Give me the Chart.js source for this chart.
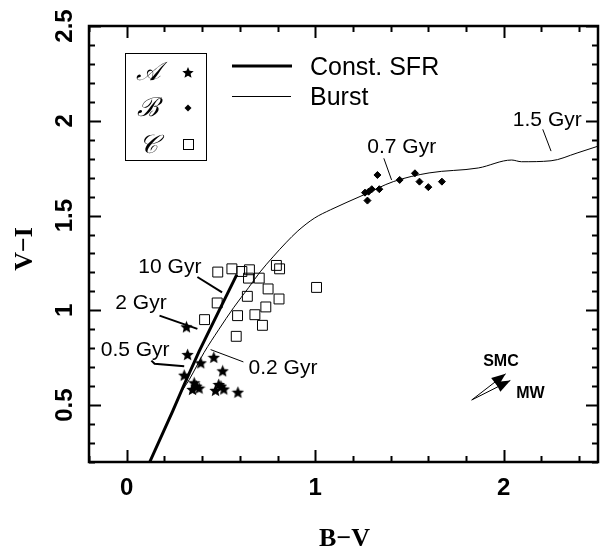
<!DOCTYPE html>
<html>
<head>
<meta charset="utf-8">
<script src="https://cdn.jsdelivr.net/npm/chart.js@4.4.0/dist/chart.umd.min.js"></script>
<style>
body { margin: 0; background: #fff; overflow: hidden; }
#wrap { width: 606px; height: 550px; }
</style>
</head>
<body>
<div id="wrap"><canvas id="myChart" width="606" height="550"></canvas></div>
<script>
// cluster sample A (stars)
var starX = [0.317, 0.323, 0.393, 0.462, 0.509, 0.305, 0.358, 0.384, 0.349, 0.370, 0.488, 0.471, 0.515, 0.500, 0.590];
var starY = [0.913, 0.767, 0.723, 0.752, 0.681, 0.658, 0.618, 0.590, 0.583, 0.600, 0.609, 0.578, 0.585, 0.600, 0.568];
// sample B (diamonds)
var diamondX = [1.330, 1.283, 1.300, 1.277, 1.340, 1.264, 1.448, 1.529, 1.553, 1.600, 1.672];
var diamondY = [1.714, 1.626, 1.639, 1.579, 1.639, 1.621, 1.688, 1.723, 1.679, 1.650, 1.679];
// sample C (open squares)
var squareX = [0.483, 0.558, 0.611, 0.651, 0.646, 0.703, 0.794, 0.811, 1.007, 0.750, 0.640, 0.808, 0.480, 0.738, 0.588, 0.680, 0.720, 0.413, 0.581];
var squareY = [1.202, 1.219, 1.205, 1.214, 1.170, 1.170, 1.237, 1.219, 1.121, 1.113, 1.074, 1.060, 1.039, 1.018, 0.972, 0.977, 0.921, 0.951, 0.863];

// model tracks
var constX = [0.122, 0.244, 0.305, 0.384, 0.488, 0.584];
var constY = [0.200, 0.468, 0.609, 0.784, 0.995, 1.188];
var burstX = [0.290, 0.332, 0.410, 0.488, 0.567, 0.646, 0.708, 0.776, 0.844, 0.908, 0.995, 1.080, 1.257, 1.414, 1.604, 1.865, 2.042, 2.094, 2.251, 2.389, 2.500];
var burstY = [0.570, 0.635, 0.777, 0.898, 1.014, 1.119, 1.203, 1.282, 1.356, 1.419, 1.486, 1.530, 1.609, 1.679, 1.725, 1.751, 1.793, 1.784, 1.789, 1.830, 1.866];

// age labels and their pointers
var ageText = ["10 Gyr", "2 Gyr", "0.5 Gyr", "0.2 Gyr", "0.7 Gyr", "1.5 Gyr"];
var ageX = [0.229, 0.076, 0.045, 0.829, 1.459, 2.231];
var ageY = [1.197, 1.006, 0.758, 0.662, 1.832, 1.972];
var pointerX = [[0.375, 0.506], [0.174, 0.375], [0.131, 0.148, 0.305], [0.445, 0.619], [1.364, 1.405], [2.207, 2.251]];
var pointerY = [[1.176, 1.095], [0.972, 0.902], [0.735, 0.718, 0.705], [0.793, 0.728], [1.802, 1.688], [1.955, 1.840]];
var pointerWidth = [2, 2, 2, 1, 1, 1];

// reddening vectors
var arrowText = ["SMC", "MW"];
var arrowX = [[1.830, 2.010], [1.830, 2.035]];
var arrowY = [[0.527, 0.665], [0.527, 0.630]];
var arrowTextX = [1.985, 2.142];
var arrowTextY = [0.705, 0.535];

// axes
var xTicks = [0, 1, 2];
var xTickLabels = ["0", "1", "2"];
var yTicks = [0.5, 1, 1.5, 2, 2.5];
var yTickLabels = ["0.5", "1", "1.5", "2", "2.5"];

function pts(xs, ys) {
  return xs.map(function (x, i) { return {x: x, y: ys[i]}; });
}

function makeStar(size) {
  var c = document.createElement("canvas");
  c.width = size; c.height = size;
  var g = c.getContext("2d");
  var r = size / 2, ri = r * 0.45;
  g.beginPath();
  for (var i = 0; i < 10; i++) {
    var a = -Math.PI / 2 + i * Math.PI / 5;
    var rr = i % 2 ? ri : r;
    g.lineTo(r + rr * Math.cos(a), r + 0.5 + rr * Math.sin(a));
  }
  g.closePath();
  g.fillStyle = "#000";
  g.fill();
  return c;
}
var starImg = makeStar(13);

var datasets = [
  {type: "line", data: pts(constX, constY), borderColor: "#000", borderWidth: 3, pointRadius: 0, fill: false},
  {type: "line", data: pts(burstX, burstY), borderColor: "#000", borderWidth: 1, pointRadius: 0, fill: false, cubicInterpolationMode: "monotone"}
];
pointerX.forEach(function (px, i) {
  datasets.push({type: "line", data: pts(px, pointerY[i]), borderColor: "#000", borderWidth: pointerWidth[i], pointRadius: 0, fill: false});
});
arrowX.forEach(function (ax, i) {
  datasets.push({type: "line", data: pts(ax, arrowY[i]), borderColor: "#000", borderWidth: 1, pointRadius: 0, fill: false});
});
datasets.push({data: pts(starX, starY), pointStyle: starImg, pointRadius: 6});
datasets.push({data: pts(diamondX, diamondY), pointStyle: "rectRot", pointRadius: 3.5, backgroundColor: "#000", borderColor: "#000", borderWidth: 1});
datasets.push({data: pts(squareX, squareY), pointStyle: "rect", pointRadius: 7, backgroundColor: "rgba(0,0,0,0)", borderColor: "#000", borderWidth: 1});

function drawStar(ctx, cx, cy, r) {
  ctx.beginPath();
  for (var i = 0; i < 10; i++) {
    var a = -Math.PI / 2 + i * Math.PI / 5;
    var rr = i % 2 ? r * 0.45 : r;
    ctx.lineTo(cx + rr * Math.cos(a), cy + rr * Math.sin(a));
  }
  ctx.closePath();
  ctx.fill();
}

var decor = {
  id: "decor",
  afterDatasetsDraw: function (chart) {
    var ctx = chart.ctx, a = chart.chartArea;
    var xs = chart.scales.x, ys = chart.scales.y;
    ctx.save();
    ctx.fillStyle = "#000";
    ctx.strokeStyle = "#000";

    // arrow heads
    arrowX.forEach(function (ax, i) {
      var x0 = xs.getPixelForValue(ax[0]), y0 = ys.getPixelForValue(arrowY[i][0]);
      var x1 = xs.getPixelForValue(ax[1]), y1 = ys.getPixelForValue(arrowY[i][1]);
      var ang = Math.atan2(y1 - y0, x1 - x0), L = 14, W = 5.5;
      ctx.beginPath();
      ctx.moveTo(x1, y1);
      ctx.lineTo(x1 - L * Math.cos(ang) + W * Math.sin(ang), y1 - L * Math.sin(ang) - W * Math.cos(ang));
      ctx.lineTo(x1 - L * Math.cos(ang) - W * Math.sin(ang), y1 - L * Math.sin(ang) + W * Math.cos(ang));
      ctx.closePath();
      ctx.fill();
    });

    // frame
    ctx.lineWidth = 2.5;
    ctx.strokeRect(a.left, a.top, a.right - a.left, a.bottom - a.top);

    // ticks
    ctx.lineWidth = 2;
    ctx.beginPath();
    for (var v = -0.2; v <= 2.5001; v += 0.2) {
      var vv = Math.round(v * 10) / 10;
      var major = Math.abs(vv - Math.round(vv)) < 1e-6;
      var len = major ? 12 : 6;
      var p = Math.round(xs.getPixelForValue(vv)) + 0.5;
      ctx.moveTo(p, a.bottom); ctx.lineTo(p, a.bottom - len);
      ctx.moveTo(p, a.top); ctx.lineTo(p, a.top + len);
    }
    for (var w = 0.2; w <= 2.5001; w += 0.1) {
      var ww = Math.round(w * 10) / 10;
      var maj = Math.abs(ww * 2 - Math.round(ww * 2)) < 1e-6;
      var l2 = maj ? 12 : 6;
      var q = Math.round(ys.getPixelForValue(ww)) + 0.5;
      ctx.moveTo(a.left, q); ctx.lineTo(a.left + l2, q);
      ctx.moveTo(a.right, q); ctx.lineTo(a.right - l2, q);
    }
    ctx.stroke();

    // tick labels
    ctx.font = "bold 24px 'Liberation Sans'";
    ctx.textAlign = "center";
    ctx.textBaseline = "alphabetic";
    xTicks.forEach(function (t, i) {
      ctx.fillText(xTickLabels[i], xs.getPixelForValue(t), 495);
    });
    yTicks.forEach(function (t, i) {
      ctx.save();
      ctx.translate(72, ys.getPixelForValue(t));
      ctx.rotate(-Math.PI / 2);
      ctx.fillText(yTickLabels[i], 0, 0);
      ctx.restore();
    });

    // axis titles
    ctx.font = "bold 26px 'Liberation Serif'";
    ctx.fillText("B\u2212V", (a.left + 600) / 2, 546);
    ctx.save();
    ctx.translate(32, 249);
    ctx.rotate(-Math.PI / 2);
    ctx.fillText("V\u2212I", 0, 0);
    ctx.restore();

    // age labels
    ctx.font = "21px 'Liberation Sans'";
    ageText.forEach(function (t, i) {
      ctx.fillText(t, xs.getPixelForValue(ageX[i]), ys.getPixelForValue(ageY[i]));
    });
    ctx.font = "bold 16px 'Liberation Sans'";
    arrowText.forEach(function (t, i) {
      ctx.fillText(t, xs.getPixelForValue(arrowTextX[i]), ys.getPixelForValue(arrowTextY[i]));
    });

    // legend: samples
    ctx.lineWidth = 1;
    ctx.strokeRect(125.5, 53.5, 81, 107);
    ctx.font = "italic 26px 'DejaVu Serif'";
    ctx.textBaseline = "middle";
    ["\uD835\uDC9C", "\u212C", "\uD835\uDC9E"].forEach(function (t, i) {
      ctx.fillText(t, 148, [73, 109, 146][i]);
    });
    drawStar(ctx, 188, 73, 6);
    ctx.beginPath();
    ctx.moveTo(184.5, 108); ctx.lineTo(188, 104.5); ctx.lineTo(191.5, 108); ctx.lineTo(188, 111.5);
    ctx.closePath(); ctx.fill();
    ctx.strokeRect(183.5, 139.5, 10, 10);

    // legend: tracks
    ctx.lineWidth = 3;
    ctx.beginPath(); ctx.moveTo(232, 66); ctx.lineTo(292, 66); ctx.stroke();
    ctx.lineWidth = 1;
    ctx.beginPath(); ctx.moveTo(232, 96.5); ctx.lineTo(291, 96.5); ctx.stroke();
    ctx.font = "25px 'Liberation Sans'";
    ctx.textAlign = "left";
    ctx.textBaseline = "alphabetic";
    ctx.fillText("Const. SFR", 310, 75);
    ctx.fillText("Burst", 310, 105);
    ctx.restore();
  }
};

new Chart("myChart", {
  type: "scatter",
  data: {datasets: datasets},
  options: {
    responsive: false,
    animation: false,
    devicePixelRatio: 1,
    layout: {padding: {left: 89, top: 26, right: 2, bottom: 88}},
    plugins: {legend: {display: false}, tooltip: {enabled: false}},
    scales: {
      x: {type: "linear", min: -0.2, max: 2.5, display: false},
      y: {type: "linear", min: 0.2, max: 2.5, display: false}
    }
  },
  plugins: [decor]
});
</script>
</body>
</html>
